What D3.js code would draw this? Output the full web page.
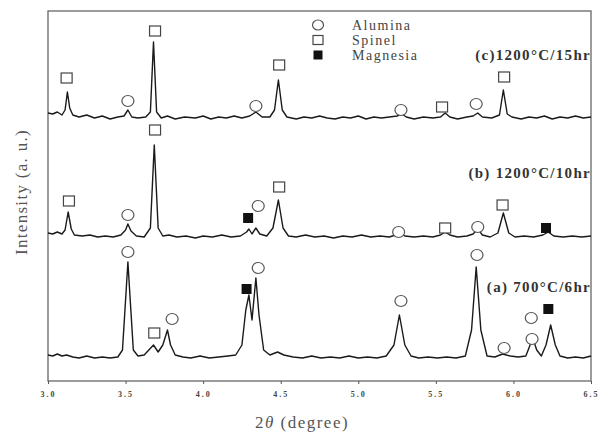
<!DOCTYPE html>
<html>
<head>
<meta charset="utf-8">
<script src="https://cdn.jsdelivr.net/npm/d3@7"></script>
<style>
  body { margin: 0; background: #fff; }
  svg { display: block; font-family: "Liberation Serif", "DejaVu Serif", serif; }
</style>
</head>
<body>
<div id="chart-area"></div>
<script>
// 2theta (deg) and intensity (a.u., traces already stacked)
var traceC = [[30.0,268],[30.3,267],[30.6,269],[30.9,266],[31.1,271],[31.25,289],[31.4,273],[31.6,266],[32.0,264],[32.5,266],[33.0,263],[33.5,265],[34.0,262],[34.5,264],[34.9,265],[35.15,271],[35.4,264],[35.8,263],[36.3,264],[36.6,269],[36.8,339],[37.0,269],[37.3,263],[37.7,265],[38.2,262],[38.8,264],[39.5,263],[40.0,265],[40.5,262],[41.0,264],[41.5,263],[42.0,265],[42.5,263],[43.0,265],[43.4,269],[43.8,264],[44.3,264],[44.6,271],[44.85,301],[45.1,271],[45.4,264],[46.0,262],[46.5,264],[47.0,263],[47.5,265],[48.0,263],[48.5,262],[49.0,264],[49.5,263],[50.0,265],[50.5,262],[51.0,264],[51.5,263],[52.0,264],[52.5,265],[52.8,267],[53.1,264],[53.6,262],[54.2,264],[54.8,263],[55.3,264],[55.6,268],[55.9,264],[56.4,262],[57.0,264],[57.4,265],[57.7,268],[58.0,264],[58.6,263],[59.1,266],[59.35,291],[59.6,267],[59.9,264],[60.5,262],[61.0,264],[61.5,263],[62.0,265],[62.5,262],[63.0,264],[63.5,263],[64.0,265],[64.5,263],[65.0,264]];

var traceB = [[30.0,148],[30.3,147],[30.6,149],[30.9,147],[31.1,151],[31.3,169],[31.5,152],[31.7,146],[32.2,145],[32.7,146],[33.2,144],[33.7,145],[34.2,144],[34.7,146],[35.0,151],[35.15,157],[35.35,150],[35.7,145],[36.2,144],[36.6,153],[36.85,236],[37.1,153],[37.4,145],[37.8,146],[38.3,144],[38.9,145],[39.5,143],[40.0,145],[40.6,144],[41.2,146],[41.8,144],[42.4,145],[42.8,149],[42.95,152],[43.15,147],[43.4,153],[43.65,147],[44.1,145],[44.5,153],[44.85,181],[45.15,153],[45.5,145],[46.0,144],[46.6,146],[47.2,144],[47.8,145],[48.4,143],[49.0,145],[49.6,144],[50.2,146],[50.8,144],[51.4,145],[52.0,144],[52.4,146],[52.7,148],[53.0,145],[53.6,144],[54.2,145],[54.8,144],[55.3,146],[55.6,149],[55.9,146],[56.4,144],[57.0,145],[57.4,147],[57.7,152],[58.0,146],[58.5,144],[59.0,148],[59.35,168],[59.7,148],[60.1,144],[60.7,145],[61.3,144],[61.9,146],[62.25,149],[62.6,145],[63.2,144],[63.8,145],[64.4,144],[65.0,145]];

var traceA = [[30.0,26],[30.3,25],[30.6,27],[30.9,25],[31.2,26],[31.6,24],[32.0,23],[32.5,25],[33.0,23],[33.5,24],[34.0,23],[34.5,24],[34.8,31],[35.0,81],[35.15,119],[35.3,81],[35.5,31],[35.8,25],[36.2,26],[36.5,31],[36.8,36],[37.1,29],[37.4,36],[37.7,51],[37.9,36],[38.2,26],[38.7,24],[39.2,23],[39.8,25],[40.4,23],[41.0,24],[41.6,25],[42.1,26],[42.5,36],[42.75,71],[42.95,86],[43.15,61],[43.4,103],[43.6,66],[43.9,31],[44.3,26],[44.8,29],[45.2,26],[45.8,24],[46.4,23],[47.0,25],[47.6,23],[48.2,24],[48.8,23],[49.4,25],[50.0,23],[50.6,24],[51.2,23],[51.8,25],[52.3,36],[52.65,66],[53.0,36],[53.4,25],[53.9,23],[54.5,24],[55.1,23],[55.7,24],[56.3,23],[56.9,25],[57.3,51],[57.6,114],[57.9,51],[58.3,25],[58.8,24],[59.3,27],[59.8,25],[60.3,24],[60.8,25],[61.0,33],[61.25,43],[61.5,31],[61.8,25],[62.1,36],[62.4,56],[62.7,36],[63.0,25],[63.5,23],[64.0,24],[64.5,23],[65.0,25]];

// phase markers [2theta, intensity]
var aluminaMarks = [[35.15,280],[43.4,275],[52.75,271],[57.6,277],
                    [35.15,166],[43.55,175],[52.6,149],[57.7,154],
                    [35.15,129],[38.0,62],[43.55,113],[52.75,80],[57.65,126],[59.4,33],[61.15,63],[61.2,42]];
var spinelMarks = [[31.2,303],[36.9,350],[44.9,316],[55.4,274],[59.4,304],
                   [31.35,180],[36.9,251],[44.9,194],[55.6,153],[59.3,176],
                   [36.85,48]];
var magnesiaMarks = [[42.9,163],[62.1,153],[42.8,92],[62.25,72]];

var xTicks = [30, 35, 40, 45, 50, 55, 60, 65];
var xTickLabels = ["3.0", "3.5", "4.0", "4.5", "5.0", "5.5", "6.0", "6.5"];

var sampleLabels = ["(c)1200°C/15hr", "(b) 1200°C/10hr", "(a) 700°C/6hr"];
var labelLevels = [321, 203, 89];
var legendNames = ["Alumina", "Spinel", "Magnesia"];

var width = 598, height = 435;
var mLeft = 48, mRight = 591, mTop = 11, mBottom = 381;

var x = d3.scaleLinear().domain([30, 65]).range([mLeft, mRight]);
var y = d3.scaleLinear().domain([0, 370]).range([mBottom, mTop]);

var svg = d3.select("#chart-area").append("svg")
    .attr("width", width)
    .attr("height", height);

svg.append("rect")
    .attr("x", mLeft).attr("y", mTop)
    .attr("width", mRight - mLeft).attr("height", mBottom - mTop)
    .attr("fill", "none").attr("stroke", "#666").attr("stroke-width", 1.3);

var xAxis = d3.axisBottom(x)
    .tickValues(xTicks)
    .tickSize(3)
    .tickFormat(function (d, i) { return xTickLabels[i]; });

var gx = svg.append("g")
    .attr("transform", "translate(0," + mBottom + ")")
    .call(xAxis);
gx.select(".domain").remove();
gx.selectAll("line").attr("stroke", "#555");
gx.selectAll("text")
    .attr("dy", "1.25em")
    .attr("fill", "#444")
    .style("font-size", "8px")
    .style("font-weight", "bold")
    .style("letter-spacing", "2px")
    .style("font-family", "'Liberation Serif', serif");

var line = d3.line()
    .x(function (d) { return x(d[0]); })
    .y(function (d) { return y(d[1]); });

[traceC, traceB, traceA].forEach(function (t) {
    svg.append("path")
        .datum(t)
        .attr("d", line)
        .attr("fill", "none")
        .attr("stroke", "#1a1a1a")
        .attr("stroke-width", 1.4)
        .attr("stroke-linejoin", "round");
});

// markers
svg.selectAll(".alu")
    .data(aluminaMarks)
    .enter().append("ellipse")
    .attr("class", "alu")
    .attr("cx", function (d) { return x(d[0]); })
    .attr("cy", function (d) { return y(d[1]); })
    .attr("rx", 6).attr("ry", 5.5)
    .attr("fill", "#fff").attr("stroke", "#555").attr("stroke-width", 1.2);

svg.selectAll(".spi")
    .data(spinelMarks)
    .enter().append("rect")
    .attr("class", "spi")
    .attr("x", function (d) { return x(d[0]) - 5.5; })
    .attr("y", function (d) { return y(d[1]) - 5; })
    .attr("width", 11).attr("height", 10)
    .attr("fill", "#fff").attr("stroke", "#444").attr("stroke-width", 1.2);

svg.selectAll(".mag")
    .data(magnesiaMarks)
    .enter().append("rect")
    .attr("class", "mag")
    .attr("x", function (d) { return x(d[0]) - 5; })
    .attr("y", function (d) { return y(d[1]) - 5; })
    .attr("width", 10).attr("height", 10)
    .attr("fill", "#111");

// sample labels
svg.selectAll(".lab")
    .data(sampleLabels)
    .enter().append("text")
    .attr("class", "lab")
    .attr("x", mRight)
    .attr("y", function (d, i) { return y(labelLevels[i]); })
    .attr("text-anchor", "end")
    .attr("fill", "#333")
    .style("font-size", "15px")
    .style("font-weight", "bold")
    .style("letter-spacing", "1.3px")
    .text(function (d) { return d; });

// legend
var lg = svg.append("g").attr("transform", "translate(318,25)");
legendNames.forEach(function (name, i) {
    var g = lg.append("g").attr("transform", "translate(0," + (i * 15) + ")");
    if (i === 0) {
        g.append("ellipse").attr("rx", 5.5).attr("ry", 5)
            .attr("fill", "#fff").attr("stroke", "#555").attr("stroke-width", 1.2);
    } else if (i === 1) {
        g.append("rect").attr("x", -5).attr("y", -4.5).attr("width", 10).attr("height", 9)
            .attr("fill", "#fff").attr("stroke", "#444").attr("stroke-width", 1.2);
    } else {
        g.append("rect").attr("x", -4.5).attr("y", -4.5).attr("width", 9).attr("height", 9)
            .attr("fill", "#111");
    }
    g.append("text")
        .attr("x", 34).attr("y", 5)
        .attr("fill", "#444")
        .style("font-size", "14px")
        .style("letter-spacing", "1.5px")
        .text(name);
});

// axis titles
var xt = svg.append("text")
    .attr("x", 302).attr("y", 428)
    .attr("text-anchor", "middle")
    .attr("fill", "#555")
    .style("font-size", "17px")
    .style("letter-spacing", "1.5px");
xt.append("tspan").text("2");
xt.append("tspan").style("font-style", "italic").text("θ");
xt.append("tspan").text(" (degree)");

svg.append("text")
    .attr("transform", "translate(27,192) rotate(-90)")
    .attr("text-anchor", "middle")
    .attr("fill", "#555")
    .style("font-size", "17px")
    .style("letter-spacing", "1.3px")
    .text("Intensity (a. u.)");
</script>
</body>
</html>
